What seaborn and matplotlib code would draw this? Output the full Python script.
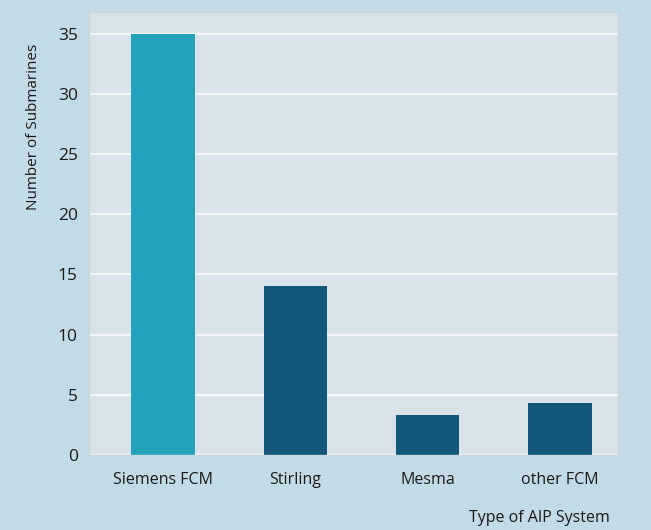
import pandas as pd
import matplotlib
matplotlib.use("Agg")
import matplotlib.pyplot as plt
import seaborn as sns

# data
systems = ["Siemens FCM", "Stirling", "Mesma", "other FCM"]
submarines = [35, 14, 3.3, 4.3]
bar_colors = ["#22a3bb", "#12567a", "#12567a", "#12567a"]
y_ticks = [0, 5, 10, 15, 20, 25, 30, 35]

df = pd.DataFrame({"system": systems, "count": submarines})

sns.set_style("white")
plt.rcParams["font.family"] = ["Open Sans", "DejaVu Sans"]

fig = plt.figure(figsize=(6.51, 5.30), dpi=100, facecolor="#c2dbe7")
ax = fig.add_axes([0.1367, 0.1415, 0.8126, 0.836])
ax.set_facecolor("#d8e3e9")
ax.set_axisbelow(True)

sns.barplot(data=df, x="system", y="count", hue="system", palette=bar_colors,
            width=0.48, legend=False, saturation=1, linewidth=0, ax=ax)

ax.set_ylim(0, 36.8)
ax.set_xlim(-0.56, 3.44)
ax.set_yticks(y_ticks)
ax.yaxis.grid(True, color="#f4f7f9", linewidth=1.6)
ax.xaxis.grid(False)

for s in ax.spines.values():
    s.set_visible(True)
    s.set_color("#c9d6de")
    s.set_linewidth(1.0)

ax.tick_params(axis="y", length=0, pad=8, labelsize=12.5, colors="#1a1a1a")
ax.tick_params(axis="x", length=0, pad=12, labelsize=11.5, colors="#1a1a1a")
ax.set_xlabel("")
ax.set_ylabel("")

fig.text(0.051, 0.76, "Number of Submarines", rotation=90, ha="center", va="center",
         fontsize=11, color="#1a1a1a")
fig.text(0.937, 0.023, "Type of AIP System", ha="right", va="center",
         fontsize=11.5, color="#1a1a1a")

fig.savefig("out.png", dpi=100, facecolor=fig.get_facecolor())
